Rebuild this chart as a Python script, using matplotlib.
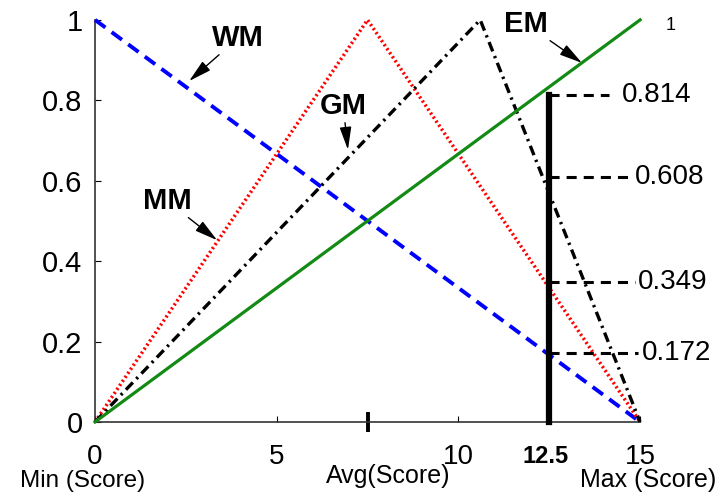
import matplotlib
matplotlib.use("Agg")
import matplotlib.pyplot as plt

plt.rcParams['font.family'] = ['Liberation Sans', 'DejaVu Sans']

# membership functions over the score range
wm_x = [0, 15]
wm_y = [1, 0]
mm_x = [0, 7.5, 15]
mm_y = [0, 1, 0]
gm_x = [0, 10.6, 15]
gm_y = [0, 1, 0]
em_x = [0, 15]
em_y = [0, 1]

score = 12.5
memberships = [0.814, 0.608, 0.349, 0.172]
x_ticks = [0, 5, 10, 15]
y_ticks = [0, 0.2, 0.4, 0.6, 0.8, 1]
avg_score = 7.5

fig = plt.figure(figsize=(7.2, 4.97), dpi=100)
ax = fig.add_axes([0.132, 0.151, 0.757, 0.809])

ax.plot(wm_x, wm_y, color='#0000ff', lw=2.8, dashes=(3.3, 2.0), clip_on=False, zorder=3)
ax.plot(mm_x, mm_y, color='#ff0000', lw=2.5, linestyle=(0, (0.6, 0.8)), clip_on=False, zorder=3)
ax.plot(gm_x, gm_y, color='black', lw=2.4, dashes=(3.0, 1.5, 0.7, 1.5), clip_on=False, zorder=3)
ax.plot(em_x, em_y, color='#138a13', lw=2.3, clip_on=False, zorder=3)

# cut at the given score, with the membership degree of each set
ax.plot([score, score], [0, memberships[0]], color='black', lw=4.5, clip_on=False, zorder=4)
dash_end = [14.15, 14.75, 14.85, 14.95]
for v, xe in zip(memberships, dash_end):
    ax.plot([score, xe], [v, v], color='black', lw=2.2, dashes=(3.3, 2.3), clip_on=False, zorder=4)
    ax.text(xe + (0.35 if xe < 14.5 else 0.1), v, f"{v:.3f}", fontsize=20,
            va='center', ha='left')

ax.set_xlim(0, 15)
ax.set_ylim(0, 1)
ax.spines['top'].set_visible(False)
ax.spines['right'].set_visible(False)
for s in ['left', 'bottom']:
    ax.spines[s].set_linewidth(1.2)
    ax.spines[s].set_color('#333333')
ax.set_xticks(x_ticks)
ax.set_xticklabels([str(t) for t in x_ticks], fontsize=20)
ax.set_xticks([avg_score], minor=True)
ax.tick_params(axis='x', which='major', direction='in', length=4.5, pad=16)
ax.tick_params(axis='x', which='minor', direction='inout', length=15, width=2.8)
ax.set_yticks(y_ticks)
ax.set_yticklabels([f"{t:g}" for t in y_ticks], fontsize=21)
ax.tick_params(axis='y', direction='in', length=4.5, pad=9)

ax.text(score - 0.1, -0.058, "12.5", fontsize=17, fontweight='bold', ha='center', va='top')
ax.text(15.83, 0.985, "1", fontsize=13, ha='center', va='center')

ax.text(-0.35, -0.162, "Min (Score)", fontsize=17.5, ha='center', va='baseline')
ax.text(8.06, -0.152, "Avg(Score)", fontsize=18, ha='center', va='baseline')
ax.text(15.22, -0.162, "Max (Score)", fontsize=18, ha='center', va='baseline')

arrow = dict(arrowstyle='-|>,head_length=0.7,head_width=0.18', color='black',
             lw=1.0, mutation_scale=20, shrinkA=0, shrinkB=0)
ax.annotate("WM", xy=(2.59, 0.848), xytext=(3.94, 0.955), fontsize=21,
            fontweight='bold', ha='center', va='center', arrowprops=arrow)
ax.annotate("GM", xy=(6.96, 0.677), xytext=(6.83, 0.786), fontsize=21,
            fontweight='bold', ha='center', va='center', arrowprops=arrow)
ax.annotate("MM", xy=(3.36, 0.452), xytext=(1.98, 0.55), fontsize=21,
            fontweight='bold', ha='center', va='center', arrowprops=arrow)
ax.annotate("EM", xy=(13.4, 0.893), xytext=(11.86, 0.99), fontsize=21,
            fontweight='bold', ha='center', va='center', arrowprops=arrow)

fig.savefig("out.png", dpi=100)
